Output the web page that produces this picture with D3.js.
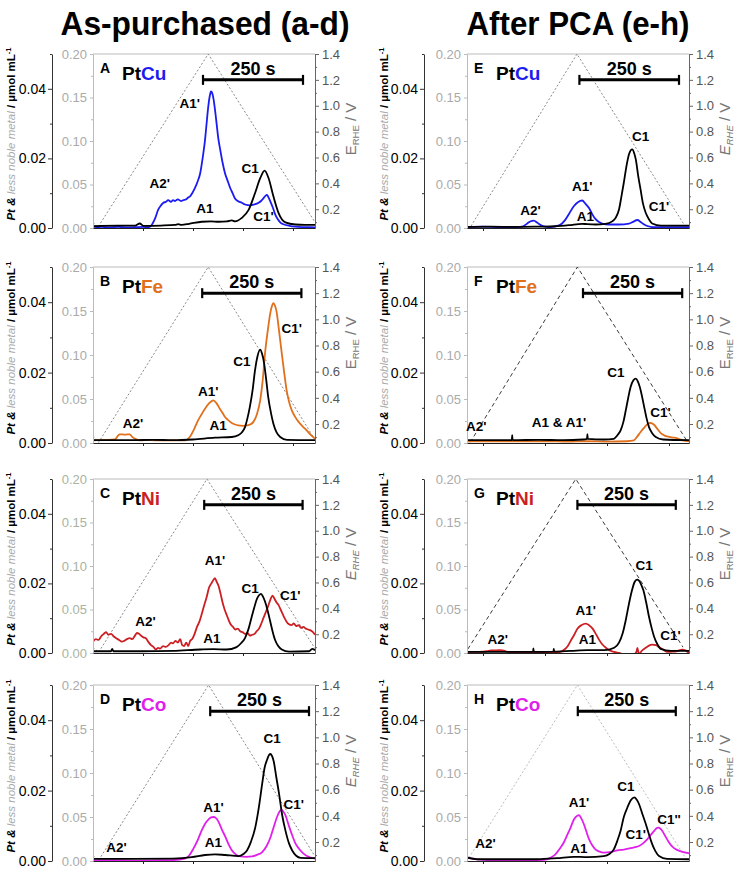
<!DOCTYPE html>
<html><head><meta charset="utf-8">
<script src="https://cdn.jsdelivr.net/npm/d3@7"></script>
<style>body{margin:0;background:#fff}svg{display:block}text{font-family:"Liberation Sans",Arial,sans-serif}</style>
</head><body><svg id="c" width="736" height="869"></svg>
<script>
// ---------- DATA (time in s, Pt in black-axis units, less-noble metal in gray-axis units, E in V) ----------
const columnTitles = ["As-purchased (a-d)", "After PCA (e-h)"];
const blackTicks = [0, 0.02, 0.04];
const grayTicks = [0, 0.05, 0.10, 0.15, 0.20];
const eTicks = [0.2, 0.4, 0.6, 0.8, 1.0, 1.2, 1.4];
const timeTicksLeft = [125, 250, 375, 500];
const timeTicksRight = [40, 195, 350, 505];

// Panel A: PtCu as-purchased
const potA = [[0,0.1],[12,0.06],[288,1.4],[555,0.1]];
const barA = [275, 525];
const ptA = [[0,0.0005],[21,0.0006],[63,0.0007],[105,0.0007],[117,0.0013],[126,0.0006],[170,0.0007],[205,0.0009],[213,0.0011],[222,0.0009],[240,0.0012],[272,0.0018],[295,0.0019],[314,0.0018],[335,0.0019],[347,0.0022],[355,0.0019],[372,0.0029],[389,0.0052],[405,0.010],[418,0.0143],[429,0.0165],[439,0.0143],[451,0.0091],[464,0.0043],[481,0.0016],[506,0.001],[530,0.0009],[555,0.0009]];
const cuA = [[0,0.002],[10,0.001],[21,0.0012],[40,0.0008],[63,0.0012],[85,0.0006],[105,0.0009],[125,0.0012],[138,0.001],[146,0.003],[150,0.006],[156,0.012],[163,0.021],[170,0.026],[176,0.029],[182,0.030],[188,0.032],[195,0.030],[200,0.032],[205,0.031],[212,0.033],[220,0.031],[226,0.032],[233,0.033],[238,0.035],[242,0.036],[248,0.040],[255,0.046],[262,0.054],[268,0.063],[274,0.080],[280,0.101],[285,0.125],[288,0.139],[292,0.152],[295,0.157],[298,0.155],[301,0.149],[305,0.136],[309,0.120],[313,0.104],[318,0.090],[324,0.075],[330,0.063],[336,0.055],[343,0.046],[349,0.040],[355,0.034],[362,0.031],[372,0.029],[380,0.027],[393,0.026],[403,0.027],[414,0.029],[420,0.031],[426,0.034],[431,0.037],[435,0.038],[439,0.035],[443,0.031],[450,0.023],[456,0.015],[462,0.010],[468,0.0065],[478,0.004],[489,0.0027],[505,0.0015],[523,0.0011],[540,0.001],[555,0.0008]];
const labelsA = [["A1'",242,0.1375],["A2'",167,0.0458],["A1",280,0.0172],["C1",393,0.063],["C1'",426,0.0076]];

// Panel B: PtFe as-purchased
const potB = [[0,0.11],[14,0.06],[288,1.4],[555,0.08]];
const barB = [273, 521];
const ptB = [[0,0.0008],[50,0.0008],[100,0.0008],[150,0.0009],[200,0.0008],[250,0.001],[305,0.0015],[347,0.0017],[363,0.0022],[372,0.003],[380,0.0045],[386,0.007],[392,0.0102],[399,0.015],[405,0.0206],[411,0.0245],[418,0.0265],[423,0.0252],[428,0.0225],[433,0.018],[438,0.0131],[445,0.0085],[451,0.0055],[459,0.003],[468,0.0017],[485,0.0009],[555,0.0008]];
const feB = [[0,0.003],[30,0.0035],[55,0.004],[62,0.008],[67,0.0099],[80,0.0095],[92,0.0099],[98,0.007],[104,0.005],[120,0.003],[135,0.0035],[160,0.003],[200,0.003],[230,0.003],[242,0.0068],[252,0.015],[263,0.026],[272,0.033],[280,0.039],[290,0.045],[301,0.0485],[309,0.045],[317,0.039],[324,0.034],[330,0.0296],[338,0.026],[347,0.0227],[355,0.021],[363,0.020],[375,0.0195],[384,0.020],[393,0.021],[401,0.024],[410,0.033],[418,0.0485],[424,0.070],[430,0.1016],[437,0.128],[443,0.147],[447,0.155],[451,0.159],[455,0.156],[459,0.149],[465,0.128],[472,0.1016],[478,0.080],[484,0.060],[490,0.047],[497,0.037],[505,0.030],[514,0.024],[524,0.019],[534,0.0144],[545,0.009],[555,0.005]];
const labelsB = [["A2'",100,0.0174],["A1'",288,0.053],["A1",313,0.0144],["C1",372,0.087],["C1'",497,0.125]];

// Panel C: PtNi as-purchased
const potC = [[0,0.1],[14,0.06],[285,1.4],[555,0.09]];
const barC = [278, 524];
const ptC = [[0,0.0005],[45,0.0005],[48,0.0012],[51,0.0005],[120,0.0005],[200,0.0006],[268,0.001],[301,0.0011],[334,0.001],[359,0.0017],[370,0.0028],[380,0.0043],[389,0.007],[397,0.0105],[403,0.013],[409,0.0153],[415,0.0166],[420,0.017],[425,0.0162],[430,0.0148],[437,0.012],[443,0.0091],[449,0.0062],[455,0.0038],[463,0.002],[472,0.001],[490,0.0004],[540,0.0005],[548,0.0012],[555,0.0008]];
const niC = [[0,0.013],[7,0.016],[14,0.015],[20,0.019],[27,0.022],[33,0.024],[38,0.021],[45,0.022],[52,0.019],[58,0.017],[65,0.015],[72,0.013],[78,0.014],[85,0.016],[92,0.017],[98,0.016],[105,0.020],[110,0.023],[115,0.022],[120,0.020],[126,0.018],[132,0.017],[138,0.013],[145,0.009],[151,0.007],[157,0.004],[163,0.006],[168,0.005],[175,0.008],[182,0.007],[189,0.009],[195,0.012],[200,0.011],[206,0.014],[212,0.012],[218,0.016],[223,0.009],[228,0.008],[233,0.012],[238,0.008],[243,0.014],[248,0.016],[254,0.022],[260,0.030],[266,0.036],[272,0.045],[278,0.055],[284,0.064],[290,0.075],[296,0.080],[301,0.084],[305,0.086],[309,0.082],[314,0.077],[319,0.068],[324,0.058],[329,0.050],[334,0.044],[339,0.038],[344,0.033],[350,0.030],[356,0.027],[362,0.028],[368,0.025],[374,0.024],[380,0.022],[386,0.023],[392,0.020],[398,0.021],[404,0.022],[409,0.025],[415,0.028],[420,0.033],[426,0.040],[432,0.047],[438,0.054],[444,0.062],[449,0.066],[454,0.062],[459,0.058],[464,0.055],[469,0.050],[474,0.045],[479,0.040],[484,0.036],[490,0.033],[496,0.032],[502,0.034],[508,0.031],[514,0.032],[520,0.029],[526,0.030],[532,0.028],[538,0.027],[544,0.026],[550,0.024],[555,0.021]];
const labelsC = [["A1'",305,0.1015],["A2'",131,0.0306],["A1",297,0.0115],["C1",393,0.069],["C1'",493,0.061]];

// Panel D: PtCo as-purchased
const potD = [[0,0.1],[14,0.06],[289,1.4],[555,0.09]];
const barD = [293, 540];
const ptD = [[0,0.0006],[100,0.0006],[200,0.0007],[247,0.0011],[280,0.0017],[305,0.0019],[331,0.0017],[364,0.0014],[376,0.002],[385,0.003],[395,0.0055],[406,0.0097],[415,0.0155],[423,0.022],[429,0.0265],[435,0.0287],[440,0.0301],[444,0.0304],[448,0.0297],[452,0.0282],[458,0.024],[465,0.0192],[473,0.013],[481,0.0087],[490,0.005],[498,0.003],[508,0.0015],[519,0.0009],[555,0.0008]];
const coD = [[0,0.0008],[50,0.001],[100,0.0002],[150,0.0008],[200,0.001],[230,0.0027],[240,0.006],[251,0.014],[262,0.024],[272,0.035],[281,0.043],[289,0.0474],[295,0.0495],[301,0.050],[307,0.049],[314,0.0444],[322,0.036],[331,0.0273],[339,0.019],[347,0.0121],[357,0.0075],[368,0.0053],[383,0.0048],[398,0.0053],[410,0.007],[423,0.0102],[434,0.017],[444,0.0273],[452,0.039],[460,0.050],[466,0.056],[471,0.0584],[476,0.056],[481,0.052],[489,0.041],[498,0.0292],[506,0.020],[515,0.014],[525,0.009],[536,0.0053],[555,0.0027]];
const labelsD = [["A2'",59,0.0102],["A1'",301,0.0558],["A1",301,0.016],["C1",448,0.1336],["C1'",502,0.0596]];

// Panel E: PtCu after PCA
const potE = [[10,0.07],[275,1.4],[545,0.07]];
const barE = [281, 530];
const ptE = [[0,0.0003],[60,0.0004],[120,0.0003],[180,0.0004],[220,0.0005],[255,0.0008],[288,0.0012],[300,0.0011],[321,0.001],[346,0.0012],[363,0.0019],[372,0.003],[380,0.0053],[386,0.009],[392,0.013],[399,0.018],[405,0.0212],[413,0.0226],[418,0.0215],[422,0.0197],[428,0.015],[434,0.011],[440,0.007],[447,0.0043],[455,0.0025],[463,0.0013],[485,0.0007],[555,0.0007]];
const cuE = [[0,0.001],[40,0.0015],[80,0.001],[120,0.001],[140,0.002],[150,0.005],[158,0.0075],[167,0.0085],[176,0.006],[184,0.0035],[195,0.0015],[205,0.001],[230,0.003],[246,0.0096],[256,0.017],[267,0.025],[278,0.030],[288,0.0316],[296,0.028],[305,0.023],[313,0.016],[321,0.0104],[330,0.007],[338,0.005],[355,0.004],[380,0.004],[405,0.005],[415,0.007],[426,0.0092],[434,0.007],[443,0.004],[453,0.002],[463,0.001],[555,0.001]];
const labelsE = [["A2'",159,0.0154],["A1'",288,0.0424],["A1",296,0.0077],["C1",434,0.100],["C1'",480,0.0193]];

// Panel F: PtFe after PCA
const potF = [[8,0.06],[276,1.4],[550,0.07]];
const barF = [290, 538];
const ptF = [[0,0.0008],[60,0.0008],[112,0.0008],[113,0.0022],[114,0.0008],[180,0.0009],[240,0.0008],[290,0.001],[300,0.0012],[301,0.0025],[302,0.0012],[342,0.001],[367,0.0012],[378,0.0025],[384,0.0036],[391,0.006],[397,0.0093],[403,0.0128],[409,0.0159],[416,0.0178],[422,0.0183],[427,0.0175],[432,0.0159],[438,0.013],[443,0.0102],[449,0.007],[455,0.0045],[463,0.0028],[472,0.0017],[490,0.001],[555,0.0008]];
const feF = [[0,0.002],[100,0.0018],[200,0.002],[250,0.0015],[300,0.002],[350,0.0015],[400,0.002],[417,0.003],[425,0.007],[434,0.0125],[442,0.017],[451,0.0212],[459,0.0227],[467,0.021],[476,0.016],[485,0.011],[493,0.0087],[505,0.007],[518,0.006],[530,0.0045],[539,0.003],[555,0.002]];
const labelsF = [["A2'",23,0.0136],["A1 & A1'",230,0.018],["C1",372,0.075],["C1'",484,0.0296]];

// Panel G: PtNi after PCA
const potG = [[2,0.085],[272,1.4],[540,0.1]];
const barG = [276, 522];
const ptG = [[0,0.0003],[80,0.0003],[165,0.0003],[166,0.0013],[167,0.0003],[216,0.0004],[217,0.0012],[218,0.0004],[260,0.0006],[301,0.0008],[343,0.0008],[368,0.0015],[380,0.003],[389,0.0056],[397,0.0095],[405,0.0142],[412,0.0178],[419,0.0204],[425,0.0211],[430,0.0208],[436,0.0195],[441,0.018],[448,0.0145],[455,0.0104],[462,0.007],[468,0.0046],[476,0.0025],[484,0.0012],[510,0.0006],[555,0.0006]];
const niG = [[0,0.0012],[30,0.0012],[50,0.002],[60,0.003],[68,0.003],[80,0.0032],[89,0.003],[101,0.0012],[120,0.0005],[150,0.0],[180,0.0005],[210,0.0004],[230,0.001],[243,0.0038],[252,0.008],[260,0.0146],[268,0.021],[276,0.028],[286,0.032],[297,0.0338],[305,0.032],[314,0.028],[322,0.022],[330,0.0154],[338,0.010],[347,0.0061],[357,0.003],[368,0.0012],[380,0.0],[393,-0.0015],[403,-0.002],[414,-0.0027],[420,-0.001],[424,0.002],[426,0.006],[428,0.002],[430,-0.0015],[436,0.002],[447,0.006],[455,0.0085],[463,0.0096],[472,0.009],[480,0.0069],[490,0.004],[501,0.0012],[515,0.0015],[526,0.0023],[538,0.0038],[546,0.003],[555,0.0]];
const labelsG = [["A2'",77,0.0108],["A1'",297,0.0434],["A1",301,0.0108],["C1",443,0.0952],["C1'",509,0.0146]];

// Panel H: PtCo after PCA
const potH = [[5,0.08],[276,1.4],[548,0.07]];
const barH = [277, 522];
const ptH = [[0,0.001],[25,0.0005],[100,0.0005],[175,0.0005],[225,0.0008],[267,0.0012],[301,0.0011],[342,0.0014],[356,0.002],[367,0.0033],[376,0.0058],[384,0.0086],[392,0.0125],[401,0.0152],[409,0.0172],[418,0.0181],[424,0.0175],[430,0.0162],[438,0.0135],[447,0.0105],[455,0.0075],[463,0.0048],[471,0.0028],[480,0.0014],[500,0.0006],[555,0.0005]];
const coH = [[0,0.0038],[25,0.0019],[50,0.001],[92,0.0],[140,0.0005],[175,0.0008],[200,0.0019],[210,0.004],[221,0.0076],[232,0.014],[242,0.021],[250,0.029],[259,0.038],[266,0.046],[271,0.0495],[276,0.0515],[280,0.052],[285,0.049],[292,0.042],[298,0.034],[305,0.0248],[313,0.018],[321,0.0133],[330,0.011],[342,0.0095],[358,0.010],[376,0.0122],[392,0.013],[409,0.0145],[420,0.0158],[430,0.0171],[440,0.020],[451,0.0248],[460,0.030],[468,0.0343],[473,0.037],[478,0.038],[483,0.037],[488,0.0343],[496,0.028],[505,0.021],[514,0.016],[522,0.0133],[531,0.0115],[539,0.0103],[547,0.0095],[555,0.0088]];
const labelsH = [["A2'",46,0.0152],["A1'",280,0.061],["A1",280,0.0095],["C1",397,0.080],["C1'",422,0.0248],["C1''",505,0.0419]];

// ---------- LAYOUT ----------
const cols = [{bx:52, x0:93, x1:315, tx:15, ticks:timeTicksLeft},{bx:424, x0:467, x1:689, tx:388, ticks:timeTicksRight}];
const rows = [{y0:54, y1:228},{y0:267, y1:443},{y0:479, y1:653},{y0:685, y1:861}];
const colors = {Cu:"#1c1cf0", Fe:"#e0701c", Ni:"#cc1f24", Co:"#e020ea"};
const potStyles = {
  dot:{stroke:"#8a8a8a", dash:"2,2"},
  dash:{stroke:"#3a3a3a", dash:"4,3"},
  light:{stroke:"#bdbdbd", dash:"2,2"}
};

const panels = [
  {letter:"A", metal:"Cu", col:0,row:0, pot:potA, bar:barA, pt:ptA, nm:cuA, labels:labelsA, ps:"dot", eIt:false},
  {letter:"B", metal:"Fe", col:0,row:1, pot:potB, bar:barB, pt:ptB, nm:feB, labels:labelsB, ps:"dot", eIt:false},
  {letter:"C", metal:"Ni", col:0,row:2, pot:potC, bar:barC, pt:ptC, nm:niC, labels:labelsC, ps:"dot", eIt:true, gcol:"#a9b3a0"},
  {letter:"D", metal:"Co", col:0,row:3, pot:potD, bar:barD, pt:ptD, nm:coD, labels:labelsD, ps:"dot", eIt:true},
  {letter:"E", metal:"Cu", col:1,row:0, pot:potE, bar:barE, pt:ptE, nm:cuE, labels:labelsE, ps:"dot", eIt:true},
  {letter:"F", metal:"Fe", col:1,row:1, pot:potF, bar:barF, pt:ptF, nm:feF, labels:labelsF, ps:"dash", eIt:false},
  {letter:"G", metal:"Ni", col:1,row:2, pot:potG, bar:barG, pt:ptG, nm:niG, labels:labelsG, ps:"dash", eIt:false},
  {letter:"H", metal:"Co", col:1,row:3, pot:potH, bar:barH, pt:ptH, nm:coH, labels:labelsH, ps:"light", eIt:false}
];

const svg = d3.select("#c");

// column titles
const titleCenters = [205, 578];
columnTitles.forEach((t,i)=>{
  svg.append("text").attr("x", titleCenters[i]).attr("y", 35)
    .attr("text-anchor","middle").attr("font-size", 34).attr("font-weight","bold")
    .attr("textLength", i===0 ? 289 : 223).attr("lengthAdjust","spacingAndGlyphs")
    .text(t);
});

function styleAxis(g, lineColor, textColor, fs){
  g.select(".domain").attr("stroke", lineColor);
  g.selectAll(".tick line").attr("stroke", lineColor);
  g.selectAll(".tick text").attr("fill", textColor).attr("font-size", fs)
    .attr("font-family", '"Liberation Sans", Arial, sans-serif');
}

panels.forEach((p, idx)=>{
  const c = cols[p.col], r = rows[p.row];
  const x = d3.scaleLinear().domain([0,555]).range([c.x0, c.x1]);
  const yG = d3.scaleLinear().domain([0,0.2]).range([r.y1, r.y0]);
  const yB = d3.scaleLinear().domain([0,0.05]).range([r.y1, r.y0]);
  const yE = d3.scaleLinear().domain([0.055,1.4]).range([r.y1, r.y0]);
  const g = svg.append("g");
  const cid = "clip"+idx;
  g.append("clipPath").attr("id", cid).append("rect")
    .attr("x", c.x0).attr("y", r.y0).attr("width", c.x1-c.x0).attr("height", r.y1-r.y0);

  // frame top
  g.append("line").attr("x1", c.x0).attr("x2", c.x1).attr("y1", r.y0).attr("y2", r.y0).attr("stroke","#bbb");

  // potential triangle
  const ps = potStyles[p.ps];
  const lineE = d3.line().x(d=>x(d[0])).y(d=>yE(d[1]));
  g.append("path").attr("clip-path",`url(#${cid})`).attr("d", lineE(p.pot))
    .attr("fill","none").attr("stroke", ps.stroke).attr("stroke-width",1).attr("stroke-dasharray", ps.dash);

  // series
  const lineG = d3.line().curve(d3.curveMonotoneX).x(d=>x(d[0])).y(d=>yG(d[1]));
  const lineB = d3.line().curve(d3.curveMonotoneX).x(d=>x(d[0])).y(d=>yB(d[1]));
  g.append("path").attr("clip-path",`url(#${cid})`).attr("d", lineG(p.nm))
    .attr("fill","none").attr("stroke", colors[p.metal]).attr("stroke-width",1.8);
  g.append("path").attr("clip-path",`url(#${cid})`).attr("d", lineB(p.pt))
    .attr("fill","none").attr("stroke", "#000").attr("stroke-width",1.8);

  // axes
  const gray = p.gcol || "#aaaaaa";
  const ga = g.append("g").attr("transform",`translate(${c.x0},0)`)
    .call(d3.axisLeft(yG).tickValues(grayTicks).tickFormat(d3.format(".2f")).tickSize(3).tickPadding(3).tickSizeOuter(0));
  styleAxis(ga, "#bbb", gray, 13);
  g.append("g").attr("transform",`translate(${c.x0},0)`)
    .call(d3.axisLeft(yG).tickValues([0.025,0.075,0.125,0.175]).tickFormat("").tickSize(2).tickSizeOuter(0))
    .call(a=>{a.select(".domain").remove(); a.selectAll("line").attr("stroke","#bbb");});

  const ba = g.append("g").attr("transform",`translate(${c.bx},0)`)
    .call(d3.axisLeft(yB).tickValues(blackTicks).tickFormat(d3.format(".2f")).tickSize(4).tickPadding(2).tickSizeOuter(0));
  styleAxis(ba, "#333", "#000", 14);
  g.append("g").attr("transform",`translate(${c.bx},0)`)
    .call(d3.axisLeft(yB).tickValues([0.01,0.03,0.05]).tickFormat("").tickSize(2).tickSizeOuter(0))
    .call(a=>{a.select(".domain").remove(); a.selectAll("line").attr("stroke","#333");});

  const ea = g.append("g").attr("transform",`translate(${c.x1},0)`)
    .call(d3.axisRight(yE).tickValues(eTicks).tickFormat(d3.format(".1f")).tickSize(4).tickPadding(3).tickSizeOuter(0));
  styleAxis(ea, "#666", "#555", 13);
  g.append("g").attr("transform",`translate(${c.x1},0)`)
    .call(d3.axisRight(yE).tickValues([0.1,0.3,0.5,0.7,0.9,1.1,1.3]).tickFormat("").tickSize(2).tickSizeOuter(0))
    .call(a=>{a.select(".domain").remove(); a.selectAll("line").attr("stroke","#666");});

  const xa = g.append("g").attr("transform",`translate(0,${r.y1})`)
    .call(d3.axisBottom(x).tickValues(c.ticks).tickFormat("").tickSize(3).tickSizeOuter(0));
  styleAxis(xa, "#222", "#000", 10);

  // scale bar
  const by = yE(1.2);
  g.append("line").attr("x1", x(p.bar[0])).attr("x2", x(p.bar[1])).attr("y1", by).attr("y2", by)
    .attr("stroke","#000").attr("stroke-width",3);
  [p.bar[0], p.bar[1]].forEach(t=>{
    g.append("line").attr("x1", x(t)).attr("x2", x(t)).attr("y1", by-5).attr("y2", by+5)
      .attr("stroke","#000").attr("stroke-width",2.2);
  });
  g.append("text").attr("x", (x(p.bar[0])+x(p.bar[1]))/2).attr("y", by-5)
    .attr("text-anchor","middle").attr("font-size",18).attr("font-weight","bold").text("250 s");

  // panel letter and alloy name
  g.append("text").attr("x", c.x0+7).attr("y", r.y0+19).attr("font-size",14).attr("font-weight","bold").text(p.letter);
  const nt = g.append("text").attr("x", c.x0+29).attr("y", r.y0+26).attr("font-size",19).attr("font-weight","bold");
  nt.append("tspan").attr("fill","#000").text("Pt");
  nt.append("tspan").attr("fill", colors[p.metal]).text(p.metal);

  // peak labels
  p.labels.forEach(l=>{
    g.append("text").attr("x", x(l[1])).attr("y", yG(l[2])).attr("text-anchor","middle")
      .attr("font-size",13.5).attr("font-weight","bold").text(l[0]);
  });

  // left axis title
  const mid = (r.y0+r.y1)/2;
  const lt = g.append("text").attr("transform",`translate(${c.tx},${mid-7}) rotate(-90)`)
    .attr("text-anchor","middle").attr("font-size",11.5);
  lt.append("tspan").attr("font-weight","bold").attr("font-style","italic").attr("fill","#000").text("Pt & ");
  lt.append("tspan").attr("font-style","italic").attr("fill","#aaa").text("less noble metal");
  lt.append("tspan").attr("font-weight","bold").attr("fill","#000").text(" / µmol mL");
  lt.append("tspan").attr("font-weight","bold").attr("fill","#000").attr("font-size",7.5).attr("dy",-4).text("-1");

  // right axis title
  const rt = g.append("text").attr("transform",`translate(${c.x1+41},${mid-12}) rotate(-90)`)
    .attr("text-anchor","middle").attr("font-size",15).attr("fill","#777");
  rt.append("tspan").attr("font-style", p.eIt ? "italic" : "normal").text("E");
  rt.append("tspan").attr("font-size",9.5).attr("dy",3).attr("font-style", p.eIt ? "italic" : "normal").text("RHE");
  rt.append("tspan").attr("dy",-3).text(" / V");
});
</script>
</body></html>
